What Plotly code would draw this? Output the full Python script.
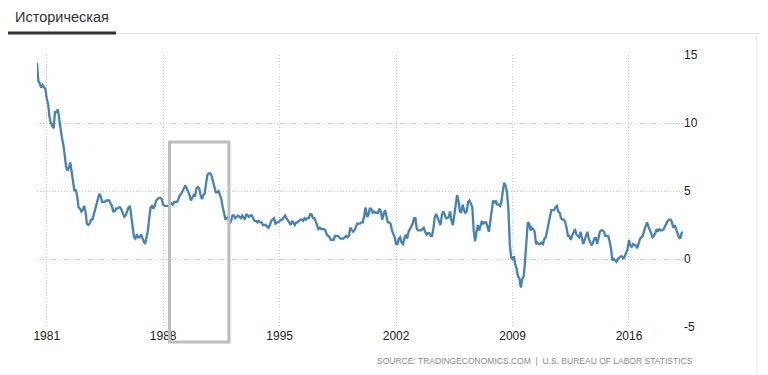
import pandas as pd
import plotly.graph_objects as go

# US inflation rate (CPI YoY, %), monthly, Jun 1980 - Apr 2019
start_month = "1980-06-01"
values_1980s = [
    14.4, 13.1, 12.9, 12.6, 12.8, 12.6, 12.5,
    11.8, 11.4, 10.5, 10.0, 9.8, 9.6, 10.8, 10.8, 11.0, 10.1, 9.6, 8.9,
    8.4, 7.6, 6.8, 6.5, 6.7, 7.1, 6.4, 5.9, 5.0, 5.1, 4.6, 3.8,
    3.7, 3.5, 3.6, 3.9, 3.5, 2.6, 2.5, 2.6, 2.9, 2.9, 3.3, 3.8,
    4.2, 4.6, 4.8, 4.6, 4.2, 4.2, 4.2, 4.3, 4.3, 4.3, 4.1, 3.9,
    3.5, 3.5, 3.7, 3.7, 3.8, 3.8, 3.6, 3.3, 3.1, 3.2, 3.5, 3.8,
    3.9, 3.1, 2.2, 1.6, 1.5, 1.8, 1.6, 1.6, 1.8, 1.5, 1.3, 1.1,
    1.5, 2.1, 3.0, 3.8, 3.9, 3.7, 3.9, 4.3, 4.4, 4.5, 4.5, 4.4,
    4.0, 3.9, 3.9, 3.9, 3.9, 4.0, 4.1, 4.0, 4.2, 4.2, 4.2, 4.4,
    4.7, 4.8, 5.0, 5.1, 5.4, 5.2, 5.0, 4.7, 4.3, 4.5, 4.7, 4.6,
]
values_1990s = [
    5.2, 5.3, 5.2, 4.7, 4.4, 4.7, 4.8, 5.6, 6.2, 6.3, 6.3, 6.1,
    5.7, 5.3, 4.9, 4.9, 5.0, 4.7, 4.4, 3.8, 3.4, 2.9, 3.0, 3.1,
    2.6, 2.8, 3.2, 3.2, 3.0, 3.1, 3.2, 3.1, 3.0, 3.2, 3.0, 2.9,
    3.3, 3.2, 3.1, 3.2, 3.2, 3.0, 2.8, 2.8, 2.7, 2.8, 2.7, 2.7,
    2.5, 2.5, 2.5, 2.4, 2.3, 2.5, 2.8, 2.9, 3.0, 2.6, 2.7, 2.7,
    2.8, 2.9, 2.9, 3.1, 3.2, 3.0, 2.8, 2.6, 2.5, 2.8, 2.6, 2.5,
    2.7, 2.7, 2.8, 2.9, 2.9, 2.8, 3.0, 2.9, 3.0, 3.0, 3.3, 3.3,
    3.0, 3.0, 2.8, 2.5, 2.2, 2.3, 2.2, 2.2, 2.2, 2.1, 1.8, 1.7,
    1.6, 1.4, 1.4, 1.4, 1.7, 1.7, 1.7, 1.6, 1.5, 1.5, 1.5, 1.6,
    1.7, 1.6, 1.7, 2.3, 2.1, 2.0, 2.1, 2.3, 2.6, 2.6, 2.6, 2.7,
]
values_2000s = [
    2.7, 3.2, 3.8, 3.1, 3.2, 3.7, 3.7, 3.4, 3.5, 3.4, 3.4, 3.4,
    3.7, 3.5, 2.9, 3.3, 3.6, 3.2, 2.7, 2.7, 2.6, 2.1, 1.9, 1.6,
    1.1, 1.1, 1.5, 1.6, 1.2, 1.1, 1.5, 1.8, 1.5, 2.0, 2.2, 2.4,
    2.6, 3.0, 3.0, 2.2, 2.1, 2.1, 2.1, 2.2, 2.3, 2.0, 1.8, 1.9,
    1.9, 1.7, 1.7, 2.3, 3.1, 3.3, 3.0, 2.7, 2.5, 3.2, 3.5, 3.3,
    3.0, 3.0, 3.1, 3.5, 2.8, 2.5, 3.2, 3.6, 4.7, 4.3, 3.5, 3.4,
    4.0, 3.6, 3.4, 3.5, 4.2, 4.3, 4.1, 3.8, 2.1, 1.3, 2.0, 2.5,
    2.1, 2.4, 2.8, 2.6, 2.7, 2.7, 2.4, 2.0, 2.8, 3.5, 4.3, 4.1,
    4.3, 4.0, 4.0, 3.9, 4.2, 5.0, 5.6, 5.4, 4.9, 3.7, 1.1, 0.1,
    0.0, 0.2, -0.4, -0.7, -1.3, -1.4, -2.1, -1.5, -1.3, -0.2, 1.8, 2.7,
]
values_2010s = [
    2.6, 2.1, 2.3, 2.2, 2.0, 1.1, 1.2, 1.1, 1.1, 1.2, 1.1, 1.5,
    1.6, 2.1, 2.7, 3.2, 3.6, 3.6, 3.6, 3.8, 3.9, 3.5, 3.4, 3.0,
    2.9, 2.9, 2.7, 2.3, 1.7, 1.7, 1.4, 1.7, 2.0, 2.2, 1.8, 1.7,
    1.6, 2.0, 1.5, 1.1, 1.4, 1.8, 2.0, 1.5, 1.2, 1.0, 1.2, 1.5,
    1.6, 1.1, 1.5, 2.0, 2.1, 2.1, 2.0, 1.7, 1.7, 1.7, 1.3, 0.8,
    -0.1, 0.0, -0.1, -0.2, 0.0, 0.1, 0.2, 0.2, 0.0, 0.2, 0.5, 0.7,
    1.4, 1.0, 0.9, 1.1, 1.0, 1.0, 0.8, 1.1, 1.5, 1.6, 1.7, 2.1,
    2.5, 2.7, 2.4, 2.2, 1.9, 1.6, 1.7, 1.9, 2.2, 2.0, 2.2, 2.1,
    2.1, 2.2, 2.4, 2.5, 2.8, 2.9, 2.9, 2.7, 2.3, 2.5, 2.2, 1.9,
    1.6, 1.5, 1.9, 2.0,
]
tick_years = ["1981", "1988", "1995", "2002", "2009", "2016"]
y_ticks = [-5, 0, 5, 10, 15]
highlight_start = "1988-05-20"
highlight_end = "1991-12-15"

values = values_1980s + values_1990s + values_2000s + values_2010s
dates = pd.date_range(start_month, periods=len(values), freq="MS")

FONT = "Liberation Sans, Arial, sans-serif"

fig = go.Figure()
fig.add_trace(go.Scatter(
    x=dates, y=values, mode="lines",
    line=dict(color="#4682b4", width=2.3),
    hoverinfo="x+y", showlegend=False,
))

# the page body has an 8px default margin; lay out in window pixels minus it
OFF = 8
W, H = 768 - OFF, 375 - OFF
L, R, T, B = 37 - OFF, 85, 55 - OFF, 56 - OFF
pw, ph = W - L - R, H - T - B


def px(x):
    return (x - OFF - L) / pw


def py(y):
    return (H - B - (y - OFF)) / ph


shapes = [
    # tab underline
    dict(type="line", xref="paper", yref="paper", x0=px(116), x1=px(762),
         y0=py(33.5), y1=py(33.5), line=dict(color="#e2e2e2", width=1)),
    dict(type="line", xref="paper", yref="paper", x0=px(6), x1=px(116),
         y0=py(33), y1=py(33), line=dict(color="#333333", width=3)),
    # panel borders
    dict(type="line", xref="paper", yref="paper", x0=px(6.5), x1=px(6.5),
         y0=py(35), y1=py(375), line=dict(color="#f0f0f0", width=1)),
    dict(type="line", xref="paper", yref="paper", x0=px(756.5), x1=px(756.5),
         y0=py(35), y1=py(375), line=dict(color="#ececec", width=1)),
    # highlight box
    dict(type="rect", xref="x", yref="paper", x0=highlight_start, x1=highlight_end,
         y0=py(342), y1=py(142), line=dict(color="#bdbdbd", width=3),
         fillcolor="rgba(0,0,0,0)", layer="above"),
]

annotations = [
    dict(text="Историческая", xref="paper", yref="paper", x=px(13), y=py(17),
         xanchor="left", yanchor="middle", showarrow=False,
         font=dict(family=FONT, size=14.5, color="#333333")),
    dict(text="SOURCE: TRADINGECONOMICS.COM  |  U.S. BUREAU OF LABOR STATISTICS",
         xref="paper", yref="paper", x=px(695), y=py(361),
         xanchor="right", yanchor="middle", showarrow=False,
         font=dict(family=FONT, size=8.5, color="#8a8a8a")),
]

GRID = dict(showgrid=True, gridcolor="#c8c8c8", griddash="1px,2px", gridwidth=1,
            zeroline=False, showline=False, ticks="")

fig.update_layout(
    width=W, height=H,
    margin=dict(l=L, r=R, t=T, b=B, pad=0),
    paper_bgcolor="white", plot_bgcolor="white",
    shapes=shapes, annotations=annotations,
    font=dict(family=FONT, size=12, color="#222222"),
    xaxis=dict(
        type="date",
        range=[dates[0], dates[-1]],
        tickvals=[f"{y}-01-01" for y in tick_years],
        ticktext=tick_years,
        tickfont=dict(family=FONT, size=12, color="#222222"),
        **GRID,
    ),
    yaxis=dict(
        range=[-5, 15], side="right",
        tickvals=y_ticks, ticktext=[str(v) for v in y_ticks],
        tickfont=dict(family=FONT, size=12, color="#222222"),
        **GRID,
    ),
)

fig.write_html("out.html")
